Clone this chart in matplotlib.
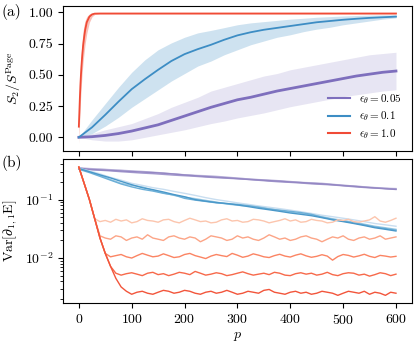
import numpy as np
import matplotlib
matplotlib.use("Agg")
import matplotlib.pyplot as plt

plt.rcParams['font.family'] = 'serif'
plt.rcParams['font.serif'] = ['cmr10', 'DejaVu Serif']
plt.rcParams['mathtext.fontset'] = 'cm'
plt.rcParams['axes.formatter.use_mathtext'] = True
plt.rcParams['font.size'] = 10
plt.rcParams['axes.unicode_minus'] = True

# ---------------- panel (a) data ----------------
p_red_top = [0, 1, 2, 3, 4, 5, 6, 8, 10, 12, 15, 20, 25, 30, 40, 100, 200, 300, 400, 500, 600]
red_mean = [0.085, 0.2, 0.32, 0.42, 0.5, 0.57, 0.63, 0.73, 0.8, 0.86, 0.92, 0.965, 0.983, 0.989, 0.99, 0.99, 0.99, 0.99, 0.99, 0.99, 0.99]
red_lo = [-0.05, 0.07, 0.18, 0.28, 0.36, 0.43, 0.5, 0.6, 0.68, 0.75, 0.83, 0.92, 0.965, 0.982, 0.986, 0.986, 0.986, 0.986, 0.986, 0.986, 0.986]
red_hi = [0.21, 0.35, 0.47, 0.57, 0.65, 0.71, 0.76, 0.85, 0.9, 0.935, 0.965, 0.987, 0.993, 0.995, 0.995, 0.995, 0.995, 0.995, 0.995, 0.995, 0.995]

p_top = [0, 25, 50, 75, 100, 125, 150, 175, 200, 225, 250, 275, 300, 325, 350, 375, 400, 425, 450, 475, 500, 525, 550, 575, 600]
blue_mean = [0, 0.08, 0.18, 0.285, 0.385, 0.465, 0.54, 0.61, 0.665, 0.705, 0.74, 0.78, 0.815, 0.84, 0.86, 0.875, 0.89, 0.905, 0.92, 0.93, 0.94, 0.948, 0.955, 0.96, 0.965]
blue_hi = [0, 0.14, 0.27, 0.40, 0.52, 0.62, 0.70, 0.755, 0.80, 0.835, 0.855, 0.877, 0.90, 0.915, 0.925, 0.935, 0.945, 0.952, 0.96, 0.965, 0.97, 0.974, 0.977, 0.979, 0.98]
blue_lo = [0, 0.03, 0.09, 0.16, 0.24, 0.31, 0.38, 0.45, 0.51, 0.57, 0.61, 0.66, 0.70, 0.74, 0.77, 0.80, 0.82, 0.845, 0.865, 0.88, 0.90, 0.915, 0.93, 0.945, 0.955]

purple_mean = [0, 0.005, 0.015, 0.03, 0.05, 0.075, 0.10, 0.135, 0.17, 0.205, 0.24, 0.27, 0.30, 0.32, 0.345, 0.37, 0.39, 0.41, 0.43, 0.45, 0.47, 0.49, 0.505, 0.52, 0.53]
purple_hi = [0, 0.03, 0.06, 0.085, 0.11, 0.15, 0.19, 0.24, 0.28, 0.32, 0.37, 0.40, 0.43, 0.46, 0.49, 0.51, 0.54, 0.56, 0.58, 0.60, 0.62, 0.64, 0.66, 0.67, 0.68]
purple_lo = [0, -0.02, -0.03, -0.03, -0.02, 0.0, 0.02, 0.04, 0.06, 0.085, 0.11, 0.13, 0.155, 0.175, 0.195, 0.22, 0.245, 0.265, 0.285, 0.305, 0.325, 0.34, 0.355, 0.37, 0.38]

legend_labels = [r'$\epsilon_\theta = 0.05$', r'$\epsilon_\theta = 0.1$', r'$\epsilon_\theta = 1.0$']

# ---------------- panel (b) data ----------------
p_red_bot = list(range(0, 601, 10))
red_lines = [
    [0.36, 0.19, 0.10, 0.047, 0.042, 0.044, 0.041, 0.046, 0.043, 0.045,
     0.040, 0.042, 0.047, 0.044, 0.043, 0.041, 0.045, 0.046, 0.042, 0.040,
     0.044, 0.048, 0.045, 0.042, 0.043, 0.040, 0.041, 0.045, 0.047, 0.043,
     0.044, 0.041, 0.042, 0.046, 0.045, 0.043, 0.040, 0.042, 0.044, 0.047,
     0.043, 0.045, 0.041, 0.042, 0.046, 0.044, 0.043, 0.040, 0.041, 0.045,
     0.044, 0.046, 0.042, 0.041, 0.043, 0.045, 0.051, 0.043, 0.041, 0.044,
     0.048],
    [0.36, 0.19, 0.10, 0.047, 0.024, 0.022, 0.021, 0.024, 0.023, 0.020,
     0.022, 0.023, 0.021, 0.025, 0.022, 0.021, 0.020, 0.023, 0.024, 0.022,
     0.021, 0.023, 0.022, 0.019, 0.021, 0.024, 0.023, 0.022, 0.020, 0.021,
     0.024, 0.022, 0.023, 0.021, 0.020, 0.022, 0.025, 0.023, 0.021, 0.022,
     0.020, 0.021, 0.023, 0.024, 0.022, 0.021, 0.019, 0.021, 0.023, 0.022,
     0.024, 0.021, 0.020, 0.022, 0.023, 0.021, 0.022, 0.024, 0.021, 0.022,
     0.023],
    [0.36, 0.19, 0.10, 0.047, 0.022, 0.012, 0.0105, 0.011, 0.0115, 0.0105,
     0.010, 0.011, 0.012, 0.0112, 0.0105, 0.0108, 0.0118, 0.011, 0.0102, 0.0105,
     0.0115, 0.012, 0.011, 0.0104, 0.0098, 0.0108, 0.0115, 0.011, 0.0106, 0.012,
     0.0112, 0.0103, 0.0108, 0.0118, 0.0112, 0.0105, 0.0102, 0.011, 0.0116, 0.0108,
     0.0104, 0.0112, 0.0118, 0.0109, 0.0103, 0.0107, 0.0114, 0.0108, 0.0092, 0.0106,
     0.0115, 0.0111, 0.0104, 0.0109, 0.0116, 0.0107, 0.0102, 0.0111, 0.0108, 0.0104,
     0.0107],
    [0.36, 0.19, 0.10, 0.047, 0.022, 0.012, 0.0072, 0.0055, 0.0051, 0.0054,
     0.0056, 0.0053, 0.0050, 0.0055, 0.0057, 0.0052, 0.0054, 0.0050, 0.0053, 0.0057,
     0.0055, 0.0052, 0.0059, 0.0055, 0.0051, 0.0053, 0.0056, 0.0054, 0.0050, 0.0052,
     0.0055, 0.0058, 0.0054, 0.0051, 0.0053, 0.0055, 0.0052, 0.0057, 0.0055, 0.0051,
     0.0050, 0.0054, 0.0056, 0.0053, 0.0055, 0.0051, 0.0053, 0.0057, 0.0052, 0.0050,
     0.0054, 0.0056, 0.0055, 0.0051, 0.0053, 0.0049, 0.0052, 0.0056, 0.0054, 0.0050,
     0.0053],
    [0.36, 0.19, 0.10, 0.047, 0.022, 0.012, 0.0072, 0.0045, 0.0032, 0.0027,
     0.0024, 0.0026, 0.0027, 0.0025, 0.0024, 0.0026, 0.0028, 0.0027, 0.0025, 0.0026,
     0.0028, 0.0027, 0.0025, 0.0024, 0.0026, 0.0027, 0.0025, 0.0026, 0.0028, 0.0026,
     0.0024, 0.0025, 0.0027, 0.0026, 0.0025, 0.0028, 0.0029, 0.0026, 0.0025, 0.0024,
     0.0026, 0.0027, 0.0025, 0.0026, 0.0024, 0.0025, 0.0027, 0.0026, 0.0025, 0.0023,
     0.0025, 0.0027, 0.0026, 0.0025, 0.0027, 0.0024, 0.0026, 0.0025, 0.0023, 0.0026,
     0.0025],
]

p_bot = list(range(0, 601, 20))
purple_lines = [
    [0.34, 0.335, 0.33, 0.322, 0.315, 0.305, 0.296, 0.288, 0.28, 0.272,
     0.266, 0.258, 0.252, 0.246, 0.238, 0.232, 0.226, 0.218, 0.212, 0.206,
     0.202, 0.196, 0.192, 0.186, 0.181, 0.176, 0.171, 0.166, 0.161, 0.158, 0.155],
    [0.35, 0.34, 0.333, 0.325, 0.318, 0.31, 0.303, 0.295, 0.285, 0.275,
     0.266, 0.26, 0.256, 0.25, 0.242, 0.234, 0.226, 0.22, 0.216, 0.21,
     0.204, 0.197, 0.194, 0.19, 0.183, 0.176, 0.171, 0.165, 0.16, 0.155, 0.151],
    [0.33, 0.325, 0.318, 0.31, 0.30, 0.292, 0.284, 0.278, 0.27, 0.262,
     0.256, 0.25, 0.243, 0.237, 0.232, 0.227, 0.221, 0.214, 0.207, 0.201,
     0.197, 0.192, 0.186, 0.182, 0.178, 0.172, 0.166, 0.161, 0.158, 0.155, 0.152],
    [0.345, 0.33, 0.322, 0.316, 0.309, 0.302, 0.296, 0.29, 0.283, 0.274,
     0.264, 0.256, 0.248, 0.242, 0.236, 0.229, 0.222, 0.217, 0.211, 0.207,
     0.2, 0.196, 0.19, 0.186, 0.18, 0.174, 0.169, 0.163, 0.158, 0.153, 0.149],
]
blue_lines = [
    [0.34, 0.31, 0.275, 0.24, 0.215, 0.19, 0.175, 0.16, 0.15, 0.138,
     0.128, 0.118, 0.108, 0.10, 0.094, 0.088, 0.083, 0.078, 0.074, 0.070,
     0.066, 0.062, 0.058, 0.054, 0.051, 0.048, 0.045, 0.042, 0.039, 0.037, 0.035],
    [0.35, 0.30, 0.26, 0.22, 0.19, 0.175, 0.165, 0.145, 0.13, 0.118,
     0.11, 0.104, 0.097, 0.091, 0.084, 0.08, 0.078, 0.075, 0.07, 0.065,
     0.061, 0.058, 0.055, 0.051, 0.047, 0.044, 0.041, 0.038, 0.035, 0.033, 0.031],
    [0.33, 0.29, 0.25, 0.215, 0.185, 0.165, 0.15, 0.14, 0.128, 0.12,
     0.105, 0.098, 0.093, 0.088, 0.085, 0.083, 0.079, 0.074, 0.069, 0.066,
     0.063, 0.060, 0.056, 0.050, 0.046, 0.043, 0.040, 0.037, 0.034, 0.032, 0.030],
    [0.34, 0.30, 0.265, 0.235, 0.205, 0.18, 0.16, 0.148, 0.135, 0.122,
     0.112, 0.10, 0.094, 0.089, 0.086, 0.081, 0.076, 0.071, 0.067, 0.063,
     0.059, 0.056, 0.053, 0.049, 0.045, 0.042, 0.039, 0.036, 0.033, 0.031, 0.029],
]

# colours
c_purple = '#7e6fbd'
c_blue = '#3d8dc4'
c_red = '#f04b36'
purple_shades = ['#d6d2ea', '#bdb6dc', '#a59bcf', '#9487c3']
blue_shades = ['#c9def0', '#9ccae4', '#6cafd7', '#4a98c9']
red_shades = ['#fcc5ad', '#fca486', '#fb8463', '#f7694a', '#f2553b']

fig = plt.figure(figsize=(4.16, 3.41), dpi=100)
ax1 = fig.add_axes([0.1514, 0.557, 0.8386, 0.4254])
ax2 = fig.add_axes([0.1514, 0.1114, 0.8386, 0.4223])

# panel (a)
ax1.fill_between(p_top, purple_lo, purple_hi, color=c_purple, alpha=0.18, lw=0)
ax1.fill_between(p_top, blue_lo, blue_hi, color=c_blue, alpha=0.25, lw=0)
ax1.fill_between(p_red_top, red_lo, red_hi, color=c_red, alpha=0.35, lw=0)
ax1.plot(p_top, purple_mean, color=c_purple, lw=2.0, label=legend_labels[0])
ax1.plot(p_top, blue_mean, color=c_blue, lw=1.3, label=legend_labels[1])
ax1.plot(p_red_top, red_mean, color=c_red, lw=1.3, label=legend_labels[2])
ax1.set_xlim(-30, 630)
ax1.set_ylim(-0.11, 1.05)
ax1.set_yticks([0, 0.25, 0.5, 0.75, 1.0])
ax1.set_yticklabels(['0.00', '0.25', '0.50', '0.75', '1.00'])
ax1.set_xticks([0, 100, 200, 300, 400, 500, 600])
ax1.tick_params(labelbottom=False)
ax1.set_ylabel(r'$S_2/S^{\rm Page}$')
leg = ax1.legend(loc='lower right', frameon=False, fontsize=8, labelspacing=0.35,
                 handlelength=2.0, borderaxespad=0.5)
for h in leg.legend_handles:
    h.set_linewidth(1.5)

# panel (b)
for ys, c in zip(purple_lines, purple_shades):
    ax2.plot(p_bot, ys, color=c, lw=1.0)
for ys, c in zip(blue_lines, blue_shades):
    ax2.plot(p_bot, ys, color=c, lw=1.0)
for ys, c in zip(red_lines, red_shades):
    ax2.plot(p_red_bot, ys, color=c, lw=1.0)
ax2.set_yscale('log')
ax2.set_xlim(-30, 630)
ax2.set_ylim(0.0017, 0.495)
ax2.set_xticks([0, 100, 200, 300, 400, 500, 600])
ax2.set_xlabel(r'$p$', labelpad=2)
ax2.set_ylabel(r'${\rm Var}[\partial_{1,1}{\rm E}]$')

fig.text(0.003, 0.965, '(a)', fontsize=11, va='center', ha='left')
fig.text(0.003, 0.522, '(b)', fontsize=11, va='center', ha='left')

fig.savefig('out.png', dpi=100)
